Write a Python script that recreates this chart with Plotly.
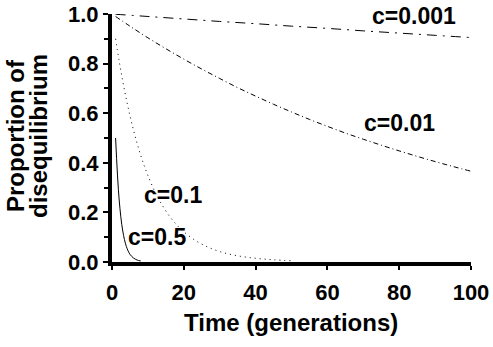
import plotly.graph_objects as go

# Values (proportion of disequilibrium remaining)
t_c0001 = [1, 10, 20, 30, 40, 50, 60, 70, 80, 90, 100]
v_c0001 = [0.999, 0.990, 0.980, 0.970, 0.961, 0.951, 0.942, 0.932, 0.923, 0.914, 0.905]

t_c001 = [1, 5, 10, 15, 20, 25, 30, 35, 40, 45, 50, 55, 60, 65, 70, 75, 80, 85, 90, 95, 100]
v_c001 = [0.990, 0.951, 0.904, 0.860, 0.818, 0.778, 0.740, 0.703, 0.669, 0.636, 0.605,
          0.575, 0.547, 0.520, 0.495, 0.471, 0.448, 0.426, 0.405, 0.385, 0.366]

t_c01 = [1, 2, 3, 4, 5, 6, 7, 8, 9, 10, 12, 14, 16, 18, 20, 23, 26, 30, 35, 40, 45, 50]
v_c01 = [0.900, 0.810, 0.729, 0.656, 0.590, 0.531, 0.478, 0.430, 0.387, 0.349, 0.282,
         0.229, 0.185, 0.150, 0.122, 0.089, 0.065, 0.042, 0.025, 0.015, 0.009, 0.005]

t_c05 = [1, 2, 3, 4, 5, 6, 7, 8]
v_c05 = [0.500, 0.250, 0.125, 0.0625, 0.031, 0.016, 0.008, 0.004]

labels = ["c=0.001", "c=0.01", "c=0.1", "c=0.5"]
label_x = [84, 80, 17, 12.5]
label_y = [0.99, 0.56, 0.27, 0.10]

x_ticks = [0, 20, 40, 60, 80, 100]
y_ticks = [0.0, 0.2, 0.4, 0.6, 0.8, 1.0]
y_ticktext = ["0.0", "0.2", "0.4", "0.6", "0.8", "1.0"]

FONT = "Liberation Sans, Arial, sans-serif"

L, R, T, B = 112, 22, 14, 85
W, H = 493, 347
pw = W - L - R
ph = H - T - B

fig = go.Figure()
styles = [
    (t_c0001, v_c0001, "10px,6px,2px,6px"),
    (t_c001, v_c001, "5px,3px,1px,3px"),
    (t_c01, v_c01, "1px,4px"),
    (t_c05, v_c05, "solid"),
]
for tx, vy, dash in styles:
    fig.add_trace(go.Scatter(x=tx, y=vy, mode="lines",
                             line=dict(color="black", width=1, dash=dash, shape="spline"),
                             showlegend=False, cliponaxis=False))

for txt, lx, ly in zip(labels, label_x, label_y):
    fig.add_annotation(x=lx, y=ly, text=txt, showarrow=False, xref="x", yref="y",
                       xanchor="center", yanchor="middle",
                       font=dict(family=FONT, size=23, color="black", weight="bold"))

fig.add_annotation(x=(291 - L) / pw, y=(H - B - 322) / ph, xref="paper", yref="paper",
                   text="<b>Time (generations)</b>", showarrow=False,
                   xanchor="center", yanchor="middle",
                   font=dict(family=FONT, size=24, color="black"))

for txt, px in [("<b>Proportion of</b>", 15), ("<b>disequilibrium</b>", 38)]:
    fig.add_annotation(x=(px - L) / pw, y=(H - B - 136) / ph, xref="paper", yref="paper",
                       text=txt, textangle=-90, showarrow=False,
                       xanchor="center", yanchor="middle",
                       font=dict(family=FONT, size=24, color="black"))

fig.update_layout(
    width=W, height=H,
    margin=dict(l=L, r=R, t=T, b=B, autoexpand=False),
    paper_bgcolor="white", plot_bgcolor="white",
    font=dict(family=FONT, color="black"),
)

fig.update_xaxes(range=[0, 100], tickvals=x_ticks, ticktext=[str(v) for v in x_ticks],
                 automargin=False, ticklabelstandoff=4,
                 ticks="outside", ticklen=4, tickwidth=2, tickcolor="black",
                 showline=True, linewidth=4, linecolor="black", showgrid=False, zeroline=False,
                 tickfont=dict(family=FONT, size=22, color="black", weight="bold"))
fig.update_yaxes(range=[0, 1], tickvals=y_ticks, ticktext=y_ticktext,
                 automargin=False,
                 ticks="outside", ticklen=5, tickwidth=2, tickcolor="black",
                 minor=dict(dtick=0.1, ticks="outside", ticklen=4, tickwidth=2, tickcolor="black"),
                 showline=True, linewidth=4, linecolor="black", showgrid=False, zeroline=False,
                 tickfont=dict(family=FONT, size=22, color="black", weight="bold"))

fig.write_html("out.html")
